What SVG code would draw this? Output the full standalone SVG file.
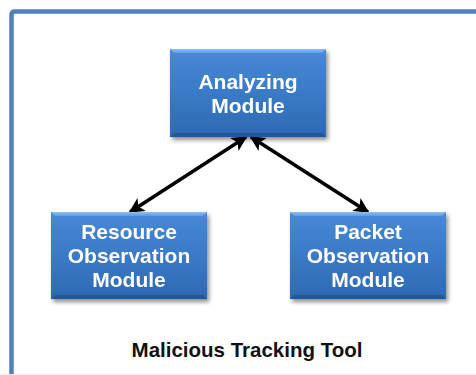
<svg xmlns="http://www.w3.org/2000/svg" width="476" height="375" viewBox="0 0 476 375">
  <defs>
    <linearGradient id="boxFill" x1="0" y1="0" x2="0" y2="1">
      <stop offset="0" stop-color="#4889d6"/>
      <stop offset="0.5" stop-color="#3a7ac7"/>
      <stop offset="1" stop-color="#2d69b2"/>
    </linearGradient>
    <linearGradient id="bevelTop" x1="0" y1="0" x2="0" y2="1">
      <stop offset="0" stop-color="#8fc0f2"/>
      <stop offset="1" stop-color="#5a9ce6"/>
    </linearGradient>
    <filter id="shadow" x="-10%" y="-10%" width="125%" height="130%">
      <feGaussianBlur in="SourceAlpha" stdDeviation="2"/>
      <feOffset dx="1.5" dy="2.5" result="b"/>
      <feComponentTransfer><feFuncA type="linear" slope="0.45"/></feComponentTransfer>
      <feMerge><feMergeNode/><feMergeNode in="SourceGraphic"/></feMerge>
    </filter>
    <marker id="head" viewBox="0 0 10 10" refX="9" refY="5" markerWidth="4.4" markerHeight="4.4" orient="auto-start-reverse" markerUnits="strokeWidth">
      <path d="M0,0 L10,5 L0,10 L2.5,5 Z" fill="#000"/>
    </marker>
    <style>
      .box { fill: url(#boxFill); }
      .bevel-t { fill: url(#bevelTop); }
      .bevel-b { fill: #24599a; }
      .label { font-family: "Liberation Sans", Arial, sans-serif; font-weight: bold; font-size: 21px; fill: #ffffff; text-anchor: middle; }
      .title { font-family: "Liberation Sans", Arial, sans-serif; font-weight: bold; font-size: 20.5px; fill: #111111; text-anchor: middle; }
      .link { stroke: #000; stroke-width: 3.5; fill: none; marker-start: url(#head); marker-end: url(#head); }
    </style>
  </defs>

  <rect width="476" height="375" fill="#ffffff"/>

  <!-- outer frame -->
  <g id="frame">
    <path d="M480,11.5 L15,11.5 Q11.5,11.5 11.5,15 L11.5,380" fill="none" stroke="#4f81bd" stroke-width="4.5"/>
    <line x1="0" y1="374.5" x2="476" y2="374.5" stroke="#ececf6" stroke-width="1"/>
  </g>

  <!-- connectors -->
  <g id="connectors">
    <line class="link" x1="246" y1="137" x2="130" y2="212"/>
    <line class="link" x1="251" y1="137" x2="368" y2="212"/>
  </g>

  <g id="analyzing" filter="url(#shadow)">
    <rect class="box" x="170" y="49" width="156" height="88"/>
    <polygon class="bevel-t" points="170,49 326,49 322,53 174,53"/>
    <polygon class="bevel-b" points="170,137 326,137 322,133 174,133"/>
    <text class="label" x="248" y="89">Analyzing</text>
    <text class="label" x="248" y="113">Module</text>
  </g>

  <g id="resource" filter="url(#shadow)">
    <rect class="box" x="51" y="212" width="156" height="87"/>
    <polygon class="bevel-t" points="51,212 207,212 203,216 55,216"/>
    <polygon class="bevel-b" points="51,299 207,299 203,295 55,295"/>
    <text class="label" x="129" y="239">Resource</text>
    <text class="label" x="129" y="263">Observation</text>
    <text class="label" x="129" y="287">Module</text>
  </g>

  <g id="packet" filter="url(#shadow)">
    <rect class="box" x="290" y="212" width="156" height="87"/>
    <polygon class="bevel-t" points="290,212 446,212 442,216 294,216"/>
    <polygon class="bevel-b" points="290,299 446,299 442,295 294,295"/>
    <text class="label" x="368" y="239">Packet</text>
    <text class="label" x="368" y="263">Observation</text>
    <text class="label" x="368" y="287">Module</text>
  </g>

  <g id="title">
    <text class="title" x="247" y="357">Malicious Tracking Tool</text>
  </g>
</svg>
